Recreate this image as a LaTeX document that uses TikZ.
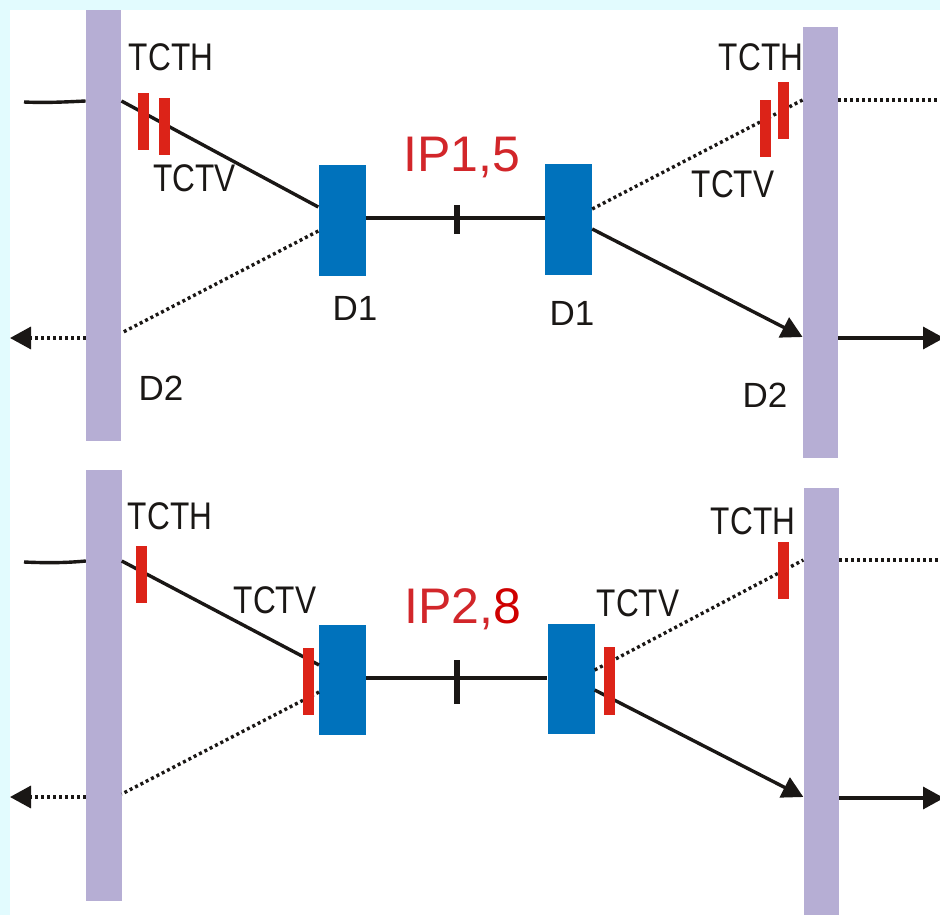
\documentclass[tikz,border=0pt]{standalone}
\usepackage{fontspec}
\setmainfont{Liberation Sans}
\usetikzlibrary{arrows.meta}
\definecolor{bgc}{HTML}{E2FBFE}
\definecolor{barc}{HTML}{B6AED4}
\definecolor{bluec}{HTML}{0072BC}
\definecolor{redc}{HTML}{DC2318}
\definecolor{iptextc}{HTML}{D2262A}
\definecolor{eightc}{HTML}{CF0000}
\definecolor{inkc}{HTML}{1A1715}
\tikzset{
  x=1pt,y=-1pt,
  barbox/.style={fill=barc,draw=none,inner sep=0,minimum width=35.5pt,minimum height=431pt},
  bluebox/.style={fill=bluec,draw=none,inner sep=0,minimum width=47pt,minimum height=110pt},
  redtick/.style={fill=redc,draw=none,inner sep=0,minimum width=11pt,minimum height=57pt},
  blacktick/.style={fill=inkc,draw=none,inner sep=0,minimum width=6.5pt},
  tclabel/.style={text=inkc,inner sep=0,font=\fontsize{38.5}{38.5}\selectfont,xscale=.82},
  dlabel/.style={text=inkc,inner sep=0,font=\fontsize{35}{35}\selectfont},
  iplabel/.style={text=iptextc,inner sep=0,font=\fontsize{50}{50}\selectfont},
  solidline/.style={draw=inkc,line width=3.4pt},
  dotline/.style={draw=inkc,line width=3.4pt,dash pattern=on 3pt off 3pt},
  headend/.style={-{Triangle[length=21pt,width=22pt,color=inkc]}},
}
\begin{document}
\begin{tikzpicture}
\useasboundingbox (0,0) rectangle (940,915);
\fill[bgc] (0,0) rectangle (940,915);
\fill[white] (10,10) rectangle (940,915);
% top half
\node[barbox] (barTL) at (103.5,225.5) {};
\node[barbox] (barTR) at (820.5,242.5) {};
\node[bluebox] (blueTL) at (342,220.5) {};
\node[bluebox] (blueTR) at (568.5,219.5) {};
\coordinate (inTL) at (24,102);
\coordinate (outTL) at (10,338);
\coordinate (outTRa) at (940,100);
\coordinate (outTRb) at (944,338);
\draw[solidline] (inTL) .. controls (45,103) and (65,102) .. (barTL.west |- 0,101);
\draw[solidline] (barTL.east |- 0,101) -- (blueTL.west |- 0,207);
\draw[dotline] (blueTL.west |- 0,231) -- (barTL.east |- 0,333);
\draw[solidline] (blueTL.east |- 0,218) -- (blueTR.west |- 0,218);
\draw[dotline] (blueTR.east |- 0,209) -- (barTR.west |- 0,100);
\draw[solidline,headend] (blueTR.east |- 0,229) -- (barTR.west |- 0,337);
\draw[dotline] (barTR.east |- 0,100) -- (outTRa);
\draw[solidline,headend] (barTR.east |- 0,338) -- (outTRb);
\draw[dotline,headend] (barTL.west |- 0,338) -- (outTL);
\node[redtick] (rTLa) at (143,121.5) {};
\node[redtick] (rTLb) at (164,126.5) {};
\node[redtick] (rTRa) at (765,128.5) {};
\node[redtick] (rTRb) at (783.5,110.5) {};
\node[blacktick,minimum height=29pt] (ipT) at (457,219) {};
\node[tclabel] (l1) at (171,57.5) {TCTH};
\node[tclabel] (l2) at (194.5,178.5) {TCTV};
\node[tclabel] (l3) at (761,57.5) {TCTH};
\node[tclabel] (l4) at (733,184.5) {TCTV};
\node[iplabel] (l5) at (462,157.5) {IP1,5};
\node[dlabel] (l6) at (355,308) {D1};
\node[dlabel] (l7) at (572,313) {D1};
\node[dlabel] (l8) at (161,388) {D2};
\node[dlabel] (l9) at (765,395.5) {D2};
% bottom half
\node[barbox] (barBL) at (103.8,685.5) {};
\node[barbox] (barBR) at (821.3,703.5) {};
\node[bluebox] (blueBL) at (342.7,680) {};
\node[bluebox] (blueBR) at (571,679) {};
\coordinate (inBL) at (24,562);
\coordinate (outBL) at (10,797);
\coordinate (outBRa) at (940,560);
\coordinate (outBRb) at (944,798);
\draw[solidline] (inBL) .. controls (45,563) and (65,563) .. (barBL.west |- 0,561);
\draw[solidline] (barBL.east |- 0,561) -- (blueBL.west |- 0,665);
\draw[dotline] (blueBL.west |- 0,692) -- (barBL.east |- 0,794);
\draw[solidline] (blueBL.east |- 0,678) -- (blueBR.west |- 0,678);
\draw[dotline] (blueBR.east |- 0,670) -- (barBR.west |- 0,560);
\draw[solidline,headend] (blueBR.east |- 0,690) -- (barBR.west |- 0,797);
\draw[dotline] (barBR.east |- 0,560) -- (outBRa);
\draw[solidline,headend] (barBR.east |- 0,798) -- (outBRb);
\draw[dotline,headend] (barBL.west |- 0,797) -- (outBL);
\node[redtick] (rBLa) at (141,574.5) {};
\node[redtick,minimum height=67pt] (rBLb) at (308,681.5) {};
\node[redtick,minimum height=68pt] (rBRb) at (609,681) {};
\node[redtick] (rBRa) at (783,570.5) {};
\node[blacktick,minimum height=44pt] (ipB) at (457,681.5) {};
\node[tclabel] (l10) at (170,516.5) {TCTH};
\node[tclabel] (l11) at (275,600.5) {TCTV};
\node[tclabel] (l12) at (753,521.5) {TCTH};
\node[tclabel] (l13) at (638,603.5) {TCTV};
\node[iplabel] (l14) at (463,609) {IP2,{\color{eightc}8}};
\end{tikzpicture}
\end{document}
